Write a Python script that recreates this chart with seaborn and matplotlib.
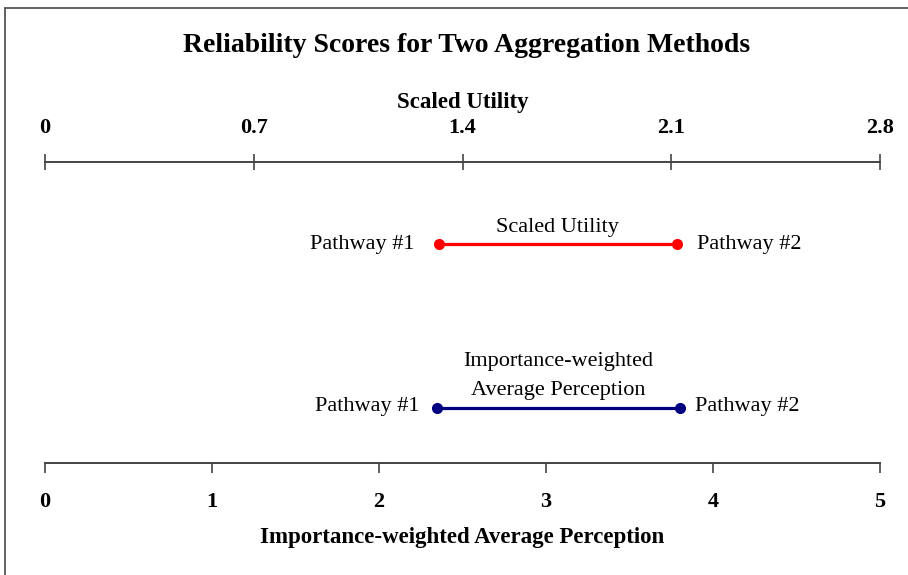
import matplotlib
matplotlib.use("Agg")
import matplotlib.pyplot as plt
import seaborn as sns
import pandas as pd
from matplotlib.patches import Rectangle

# ---- data ----
pathways = ["Pathway #1", "Pathway #2"]
scaled_utility = [1.32, 2.12]
importance_weighted = [2.35, 3.80]
top_ticks = [0, 0.7, 1.4, 2.1, 2.8]
top_tick_labels = ["0", "0.7", "1.4", "2.1", "2.8"]
bottom_ticks = [0, 1, 2, 3, 4, 5]
bottom_tick_labels = ["0", "1", "2", "3", "4", "5"]
title = "Reliability Scores for Two Aggregation Methods"
top_label = "Scaled Utility"
bottom_label = "Importance-weighted Average Perception"
su_label = "Scaled Utility"
iw_label = "Importance-weighted\nAverage Perception"

sns.set_theme(style="white")
plt.rcParams["font.family"] = ["Liberation Serif", "DejaVu Serif"]
plt.rcParams["text.color"] = "black"
plt.rcParams["axes.labelcolor"] = "black"
plt.rcParams["xtick.color"] = "black"

W, H = 908, 575
fig = plt.figure(figsize=(W / 100, H / 100), dpi=100)
fig.patch.set_facecolor("white")

# frame around chart (cropped at right/bottom)
fig.patches.append(Rectangle((5 / W, -0.2), 1.2, 1 - 8 / H + 0.2,
                             transform=fig.transFigure, fill=False,
                             edgecolor="#555555", linewidth=1.3))

left, right = 45 / W, 880 / W
bottom, top = 1 - 463 / H, 1 - 162 / H
ax = fig.add_axes([left, bottom, right - left, top - bottom])
ax.set_facecolor("none")
ax_top = ax.twiny()

ax.set_xlim(0, 5)
ax_top.set_xlim(0, 2.8)
ax.set_ylim(0, 1)

y_red = (463 - 244) / 301
y_blue = (463 - 408) / 301

df_su = pd.DataFrame({"x": scaled_utility, "y": [y_red] * 2, "p": pathways})
df_iw = pd.DataFrame({"x": importance_weighted, "y": [y_blue] * 2, "p": pathways})

sns.lineplot(data=df_su, x="x", y="y", ax=ax_top, color="#FF0000",
             linewidth=2.3, marker="o", markersize=8, markeredgewidth=0)
sns.lineplot(data=df_iw, x="x", y="y", ax=ax, color="#000080",
             linewidth=2.3, marker="o", markersize=8, markeredgewidth=0)

fs = 16
# labels for red line
ax_top.annotate(pathways[0], (scaled_utility[0], y_red), xytext=(-24, 0),
                textcoords="offset pixels", ha="right", va="center", fontsize=fs)
ax_top.annotate(pathways[1], (scaled_utility[1], y_red), xytext=(20, 0),
                textcoords="offset pixels", ha="left", va="center", fontsize=fs)
ax_top.annotate(su_label, (sum(scaled_utility) / 2, y_red), xytext=(0, 7),
                textcoords="offset pixels", ha="center", va="bottom", fontsize=fs)
# labels for blue line
ax.annotate(pathways[0], (importance_weighted[0], y_blue), xytext=(-18, 2),
            textcoords="offset pixels", ha="right", va="center", fontsize=fs)
ax.annotate(pathways[1], (importance_weighted[1], y_blue), xytext=(15, 2),
            textcoords="offset pixels", ha="left", va="center", fontsize=fs)
ax.annotate(iw_label, (sum(importance_weighted) / 2, y_blue), xytext=(0, 8),
            textcoords="offset pixels", ha="center", va="bottom", fontsize=fs,
            linespacing=1.7)

for a in (ax, ax_top):
    for s in a.spines.values():
        s.set_visible(False)
    a.set_yticks([])
    a.set_ylabel("")
    a.grid(False)

ax.spines["bottom"].set_visible(True)
ax.spines["bottom"].set_color("#444444")
ax.spines["bottom"].set_linewidth(1.4)
ax_top.spines["top"].set_visible(True)
ax_top.spines["top"].set_color("#444444")
ax_top.spines["top"].set_linewidth(1.4)

tfs = 16
ax.set_xticks(bottom_ticks)
ax.set_xticklabels(bottom_tick_labels, fontsize=tfs, fontweight="bold")
ax.tick_params(axis="x", direction="out", length=7, width=1.2, color="#444444",
               labelcolor="black", pad=14, bottom=True)
ax.set_xlabel(bottom_label, fontsize=16.5, fontweight="bold", labelpad=11)

ax_top.set_xticks(top_ticks)
ax_top.set_xticklabels(top_tick_labels, fontsize=tfs, fontweight="bold")
ax_top.tick_params(axis="x", direction="inout", length=11, width=1.2,
                   color="#444444", labelcolor="black", pad=12, top=True)
ax_top.set_xlabel(top_label, fontsize=16.5, fontweight="bold", labelpad=7)

fig.text(0.5 * (left + right) + 0.004, 1 - 46 / H, title, ha="center", va="center",
         fontsize=20, fontweight="bold")

fig.savefig("out.png", dpi=100)
